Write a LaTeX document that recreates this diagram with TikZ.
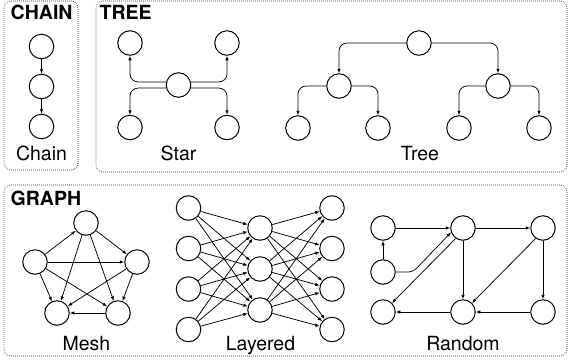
\documentclass[tikz,border=0pt]{standalone}
\usepackage{fontspec}
\setmainfont{TeX Gyre Heros}
\usetikzlibrary{arrows.meta}
\begin{document}
\begin{tikzpicture}[x=1pt,y=-1pt,
  nd/.style={circle,draw,line width=1pt,minimum size=24.5pt,inner sep=0pt},
  arr/.style={-{Latex[length=4.5pt,width=3.5pt]},line width=0.75pt},
  panel/.style={draw=black!85,line width=0.7pt,dash pattern=on 0.7pt off 1.3pt,rounded corners=7pt},
  ttl/.style={anchor=base west,inner sep=0pt,font=\fontsize{19.5}{21}\selectfont\bfseries},
  lbl/.style={anchor=base,inner sep=0pt,font=\fontsize{19.5}{21}\selectfont}]
\useasboundingbox (0,0) rectangle (570,360);
% panels
\draw[panel] (4,1) rectangle (78,170);
\draw[panel] (96,1) rectangle (567,172);
\draw[panel] (4,185) rectangle (567,356);
\node[ttl] (tchain) at (10.5,19.5) {CHAIN};
\node[ttl] (ttree) at (99.5,19.5) {TREE};
\node[ttl] (tgraph) at (10.5,205.5) {GRAPH};
% chain
\node[nd] (c1) at (41.5,46.5) {};
\node[nd] (c2) at (41.5,86.5) {};
\node[nd] (c3) at (41.5,126.5) {};
\draw[arr] (c1) -- (c2);
\draw[arr] (c2) -- (c3);
\node[lbl] (lchain) at (41.5,160.5) {Chain};
% star
\node[nd] (sc) at (178.5,85) {};
\node[nd] (stl) at (130,43) {};
\node[nd] (str) at (227,43) {};
\node[nd] (sbl) at (130,127.5) {};
\node[nd] (sbr) at (227,127.5) {};
\draw[arr,rounded corners=8pt] (sc.166) -| (stl);
\draw[arr,rounded corners=8pt] (sc.194) -| (sbl);
\draw[arr,rounded corners=8pt] (sc.14) -| (str);
\draw[arr,rounded corners=8pt] (sc.-14) -| (sbr);
\node[lbl] (lstar) at (178.5,160.5) {Star};
% tree
\node[nd] (tr) at (419,43) {};
\node[nd] (ta) at (339,86) {};
\node[nd] (tb) at (498,86) {};
\node[nd] (ta1) at (298,128) {};
\node[nd] (ta2) at (378,128) {};
\node[nd] (tb1) at (459,128) {};
\node[nd] (tb2) at (539,128) {};
\draw[arr,rounded corners=8pt] (tr.west) -| (ta);
\draw[arr,rounded corners=8pt] (tr.east) -| (tb);
\draw[arr,rounded corners=8pt] (ta.west) -| (ta1);
\draw[arr,rounded corners=8pt] (ta.east) -| (ta2);
\draw[arr,rounded corners=8pt] (tb.west) -| (tb1);
\draw[arr,rounded corners=8pt] (tb.east) -| (tb2);
\node[lbl] (ltree) at (420,160) {Tree};
% mesh
\node[nd] (mt) at (86,223) {};
\node[nd] (ml) at (35,262) {};
\node[nd] (mr) at (137,262) {};
\node[nd] (mbl) at (57,313) {};
\node[nd] (mbr) at (118,313) {};
\draw[arr] (ml) -- (mt);
\draw[arr] (mt) -- (mr);
\draw[arr] (ml) -- (mr);
\draw[arr] (ml) -- (mbl);
\draw[arr] (ml) -- (mbr);
\draw[arr] (mt) -- (mbl);
\draw[arr] (mt) -- (mbr);
\draw[arr] (mr) -- (mbl);
\draw[arr] (mr) -- (mbr);
\draw[arr] (mbr) -- (mbl);
\node[lbl] (lmesh) at (86.5,350) {Mesh};
% layered
\node[nd] (a1) at (188.5,208) {};
\node[nd] (a2) at (188.5,248.5) {};
\node[nd] (a3) at (188.5,289) {};
\node[nd] (a4) at (188.5,329.5) {};
\node[nd] (b1) at (260,228) {};
\node[nd] (b2) at (260,269) {};
\node[nd] (b3) at (260,310) {};
\node[nd] (c1x) at (332,208) {};
\node[nd] (c2x) at (332,248.5) {};
\node[nd] (c3x) at (332,289) {};
\node[nd] (c4x) at (332,329.5) {};
\foreach \s in {a1,a2,a3,a4} \foreach \t in {b1,b2,b3} \draw[arr] (\s) -- (\t);
\foreach \s in {b1,b2,b3} \foreach \t in {c1x,c2x,c3x,c4x} \draw[arr] (\s) -- (\t);
\node[lbl] (llay) at (260.5,350) {Layered};
% random
\node[nd] (rtl) at (383,228) {};
\node[nd] (rtm) at (463,228) {};
\node[nd] (rtr) at (543,228) {};
\node[nd] (rml) at (383,272) {};
\node[nd] (rbl) at (383,312) {};
\node[nd] (rbm) at (463,312) {};
\node[nd] (rbr) at (543,312) {};
\coordinate (rk) at (413,272);
\draw[arr] (rtl) -- (rtm);
\draw[arr] (rtm) -- (rtr);
\draw[arr] (rml) -- (rtl);
\draw[arr,rounded corners=5pt] (rml.east) -- (rk) -- (rtm.200);
\draw[arr] (rtm.235) -- (rbl.45);
\draw[arr] (rtm) -- (rbm);
\draw[arr] (rtr.235) -- (rbm.45);
\draw[arr] (rtr) -- (rbr);
\draw[arr] (rbr) -- (rbm);
\draw[arr] (rbm) -- (rbl);
\node[lbl] (lrand) at (463,350) {Random};
\end{tikzpicture}
\end{document}
